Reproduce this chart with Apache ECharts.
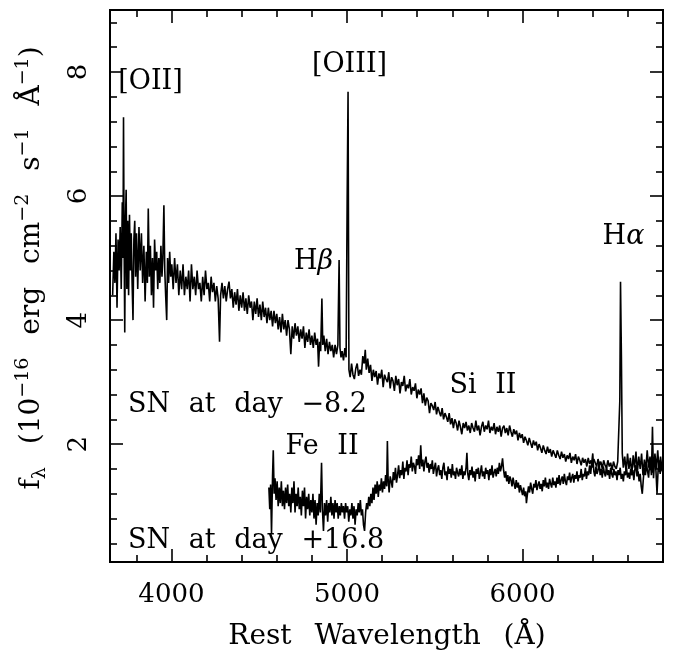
<!DOCTYPE html>
<html><head><meta charset="utf-8">
<script src="https://cdn.jsdelivr.net/npm/echarts@6/dist/echarts.min.js"></script>
<style>html,body{margin:0;padding:0;background:#fff}#c{width:674px;height:662px}</style>
</head><body><div id="c"></div>
<script>
// Day -8.2 spectrum: [rest wavelength (A), flux (1e-16 erg/cm2/s/A)]
const spectrumEarly = [
[3665,4.4],[3672,5.1],[3678,4.6],[3684,5.4],[3690,4.2],[3696,5.3],[3702,4.8],[3708,5.5],[3714,4.5],[3720,5.9],[3724,5.0],[3727,7.27],[3730,5.4],[3734,3.8],[3738,5.6],[3742,6.1],[3746,4.5],[3751,5.6],[3756,4.4],[3761,5.7],[3766,4.8],[3771,5.4],[3776,4.6],[3781,4.0],[3786,5.3],[3791,5.6],[3796,4.7],[3801,5.4],
[3808,4.5],[3815,5.5],[3822,4.8],[3829,5.4],[3836,4.6],[3843,5.2],[3850,4.3],[3857,5.1],[3863,4.6],[3868,5.8],[3874,4.7],[3880,5.2],[3886,4.4],[3892,5.0],[3898,4.2],[3904,5.3],[3910,4.8],[3916,5.1],[3922,4.5],[3928,5.0],[3934,4.6],[3940,5.2],[3946,4.7],[3951,5.0],[3957,5.85],[3962,4.8],[3967,4.4],[3973,4.0],[3978,5.0],[3984,4.6],[3990,5.1],[3996,4.7],
[4002,4.9],[4010,4.5],[4018,5.0],[4026,4.6],[4034,4.9],[4042,4.4],[4050,4.8],[4058,4.5],[4066,4.9],[4074,4.4],[4082,4.7],[4090,4.5],[4098,4.8],[4106,4.3],[4114,4.9],[4122,4.5],[4130,4.7],[4138,4.4],[4146,4.8],[4154,4.5],[4162,4.6],[4170,4.3],[4178,4.7],[4186,4.4],[4194,4.8],[4202,4.5],[4210,4.6],[4218,4.3],[4226,4.7],[4234,4.45],[4242,4.6],[4250,4.3],[4258,4.55],[4266,4.35],[4274,3.65],[4280,4.4],[4288,4.6],[4296,4.35],
[4304,4.55],[4312,4.3],[4320,4.5],[4328,4.62],[4336,4.35],[4344,4.5],[4352,4.2],[4360,4.45],[4368,4.25],[4376,4.5],[4384,4.15],[4392,4.4],[4400,4.2],[4408,4.45],[4416,4.15],[4424,4.35],[4432,4.1],[4440,4.4],[4448,4.2],[4456,4.3],[4464,4.0],[4472,4.3],[4480,4.1],[4488,4.35],[4496,4.05],[4504,4.25],[4512,4.0],[4520,4.3],[4528,4.05],[4536,4.2],[4544,3.95],[4552,4.2],[4560,4.0],[4568,4.15],[4576,3.9],[4584,4.15],[4592,3.95],[4600,4.1],
[4608,3.85],[4616,4.05],[4624,3.8],[4632,4.1],[4640,3.85],[4648,4.0],[4656,3.75],[4664,4.0],[4672,3.85],[4680,3.45],[4688,3.9],[4696,3.7],[4704,3.95],[4712,3.75],[4720,3.9],[4728,3.65],[4736,3.85],[4744,3.7],[4752,3.9],[4760,3.55],[4768,3.8],[4776,3.65],[4784,3.85],[4792,3.6],[4800,3.75],[4808,3.55],[4816,3.8],[4824,3.6],[4832,3.7],[4838,3.25],[4844,3.65],[4850,3.5],[4857,4.35],[4862,3.6],[4868,3.75],[4876,3.5],[4884,3.7],[4892,3.45],[4900,3.65],
[4908,3.5],[4916,3.6],[4924,3.4],[4932,3.6],[4940,3.45],[4948,3.6],[4955,4.97],[4960,3.55],[4966,3.4],[4972,3.5],[4980,3.35],[4988,3.55],[4995,3.4],[5001,5.98],[5006,7.68],[5011,3.2],
[5018,3.08],[5026,3.3],[5034,3.12],[5042,3.05],[5050,3.22],[5058,3.3],[5066,3.1],[5074,3.2],[5082,3.12],[5090,3.42],[5098,3.3],[5104,3.52],[5110,3.2],[5118,3.38],[5126,3.15],[5134,3.28],[5142,3.02],[5150,3.2],[5158,3.08],[5166,3.18],[5174,2.96],[5182,3.14],[5190,3.06],[5198,3.2],
[5206,2.92],[5214,3.12],[5222,3.05],[5230,3.0],[5238,3.16],[5246,2.9],[5254,3.08],[5262,3.02],[5270,2.86],[5278,3.1],[5286,2.95],[5294,3.05],[5302,2.82],[5310,3.0],[5318,2.94],[5326,3.1],[5334,2.85],[5342,2.96],[5350,2.9],[5358,3.05],[5366,2.8],[5374,2.92],[5382,2.86],[5390,2.98],[5398,2.74],
[5406,2.88],[5414,2.8],[5422,2.9],[5430,2.66],[5438,2.82],[5446,2.62],[5454,2.75],[5462,2.7],[5470,2.5],[5478,2.66],[5486,2.62],[5494,2.55],[5502,2.68],[5510,2.48],[5518,2.6],[5526,2.52],[5534,2.45],[5542,2.58],[5550,2.4],[5558,2.5],[5566,2.44],[5574,2.36],[5582,2.5],[5590,2.32],[5598,2.42],
[5606,2.26],[5614,2.4],[5622,2.34],[5630,2.22],[5638,2.38],[5646,2.28],[5654,2.16],[5662,2.34],[5670,2.26],[5678,2.36],[5686,2.22],[5694,2.3],[5702,2.18],[5710,2.34],[5718,2.26],[5726,2.2],[5734,2.38],[5742,2.22],[5750,2.3],[5758,2.14],[5766,2.28],[5774,2.36],[5782,2.2],[5790,2.3],[5798,2.24],
[5806,2.38],[5814,2.18],[5822,2.28],[5830,2.22],[5838,2.34],[5846,2.16],[5854,2.28],[5862,2.2],[5870,2.3],[5878,2.12],[5886,2.26],[5894,2.3],[5902,2.18],[5910,2.26],[5918,2.14],[5926,2.3],[5934,2.2],[5942,2.12],[5950,2.24],[5958,2.16],[5966,2.22],[5974,2.06],[5982,2.18],[5990,2.1],[5998,2.16],
[6006,2.02],[6014,2.12],[6022,2.06],[6030,1.98],[6038,2.1],[6046,2.02],[6054,1.94],[6062,2.06],[6070,1.98],[6078,2.04],[6086,1.9],[6094,2.0],[6102,1.94],[6110,1.86],[6118,1.98],[6126,1.9],[6134,1.84],[6142,1.96],[6150,1.86],[6158,1.92],[6166,1.8],[6174,1.9],[6182,1.84],[6190,1.78],[6198,1.9],
[6206,1.82],[6214,1.76],[6222,1.88],[6230,1.78],[6238,1.84],[6246,1.72],[6254,1.82],[6262,1.76],[6270,1.86],[6278,1.7],[6286,1.8],[6294,1.74],[6302,1.84],[6310,1.68],[6318,1.8],[6326,1.74],[6334,1.66],[6342,1.78],[6350,1.7],[6358,1.76],[6366,1.64],[6374,1.78],[6382,1.68],[6390,1.74],[6398,1.62],
[6406,1.76],[6414,1.7],[6422,1.64],[6430,1.76],[6438,1.66],[6446,1.72],[6454,1.6],[6462,1.74],[6470,1.66],[6478,1.62],[6486,1.74],[6494,1.64],[6502,1.7],[6510,1.58],[6518,1.72],[6526,1.64],[6534,1.6],[6542,1.72],[6550,1.7],[6554,2.7],[6558,4.62],[6563,3.43],[6568,1.85],[6574,1.62],[6582,1.8],[6590,1.55],[6598,1.85],
[6606,1.6],[6614,1.78],[6622,1.5],[6630,1.82],[6638,1.62],[6646,1.88],[6654,1.55],[6662,1.8],[6670,1.6],[6678,1.85],[6686,1.5],[6694,1.75],[6702,1.58],[6710,1.9],[6718,1.62],[6726,1.8],[6734,1.5],[6740,2.28],[6746,1.45],[6754,1.85],[6762,1.6],[6770,1.9],[6778,1.55],[6786,1.8],[6794,1.6],[6800,1.75]
];
// Day +16.8 spectrum
const spectrumLate = [
[4555,1.3],[4560,0.95],[4565,1.35],[4570,0.55],[4576,1.5],[4580,1.9],[4585,1.2],[4590,1.45],[4596,1.1],[4602,1.4],[4608,1.0],[4614,1.3],[4620,1.05],[4626,1.4],[4632,1.0],[4638,1.25],[4644,0.95],[4650,1.3],[4656,1.05],[4662,1.35],[4668,1.0],[4674,1.2],[4680,0.9],[4686,1.3],[4692,1.05],[4698,1.4],
[4704,0.9],[4710,1.2],[4716,1.0],[4722,1.3],[4728,0.95],[4734,1.15],[4740,0.85],[4746,1.25],[4752,1.0],[4758,1.3],[4764,0.8],[4770,1.15],[4776,0.95],[4782,1.2],[4788,0.85],[4794,1.1],[4800,0.9],[4806,1.2],[4812,0.8],[4818,1.1],[4824,0.7],[4830,1.05],[4836,0.85],[4842,1.2],[4848,0.9],[4855,1.7],[4860,0.95],[4866,0.6],[4872,1.05],[4878,0.85],[4884,1.1],[4890,0.75],[4896,1.05],
[4902,0.9],[4908,1.15],[4914,0.85],[4920,1.05],[4926,0.8],[4932,1.1],[4938,0.9],[4944,1.05],[4950,0.8],[4956,1.0],[4962,0.85],[4968,1.05],[4974,0.9],[4980,1.0],[4986,0.8],[4992,1.05],[4998,0.9],[5004,1.0],[5010,0.75],[5016,0.95],[5022,0.85],[5028,1.05],[5034,0.8],[5040,1.0],[5046,0.7],[5052,0.95],[5058,0.85],[5064,1.05],[5070,0.9],[5076,1.1],[5082,0.85],[5088,0.95],[5094,0.7],[5100,0.6],
[5106,0.9],[5112,1.05],[5118,0.95],[5124,1.15],[5130,1.0],[5136,1.2],[5142,1.05],[5148,1.3],[5154,1.1],[5160,1.35],[5166,1.2],[5172,1.4],[5178,1.15],[5184,1.35],[5190,1.25],[5196,1.45],
[5202,1.22],[5208,1.4],[5214,1.28],[5220,1.5],[5226,1.32],[5230,2.05],[5234,1.45],[5240,1.22],[5246,1.48],[5252,1.4],[5258,1.3],[5264,1.55],[5270,1.42],[5276,1.62],[5282,1.38],[5288,1.5],[5294,1.66],[5300,1.45],[5306,1.58],[5312,1.5],[5318,1.72],[5324,1.44],[5330,1.62],[5336,1.56],[5342,1.74],[5348,1.5],[5354,1.68],[5360,1.62],[5366,1.8],[5372,1.56],[5378,1.7],[5384,1.64],[5390,1.52],[5396,1.76],
[5402,1.66],[5408,1.82],[5414,1.6],[5420,1.98],[5426,1.64],[5432,1.75],[5438,1.56],[5444,1.72],[5450,1.8],[5456,1.62],[5462,1.7],[5468,1.54],[5474,1.68],[5480,1.6],[5486,1.74],[5492,1.52],[5498,1.62],[5504,1.7],[5510,1.48],[5516,1.6],[5522,1.66],[5528,1.5],[5534,1.58],[5540,1.44],[5546,1.62],[5552,1.7],[5558,1.5],[5564,1.56],[5570,1.42],[5576,1.64],[5582,1.52],[5588,1.6],[5594,1.46],
[5600,1.68],[5606,1.5],[5612,1.56],[5618,1.44],[5624,1.62],[5630,1.54],[5636,1.48],[5642,1.6],[5648,1.5],[5654,1.66],[5660,1.44],[5666,1.56],[5672,1.5],[5678,1.62],[5683,1.86],[5688,1.52],[5694,1.42],[5700,1.58],[5706,1.5],[5712,1.64],[5718,1.46],[5724,1.56],[5730,1.4],[5736,1.6],[5742,1.52],[5748,1.62],[5754,1.44],[5760,1.54],[5766,1.66],[5772,1.48],[5778,1.56],[5784,1.44],[5790,1.62],[5796,1.52],
[5802,1.58],[5808,1.42],[5814,1.6],[5820,1.5],[5826,1.66],[5832,1.46],[5838,1.54],[5844,1.6],[5850,1.48],[5856,1.62],[5862,1.52],[5868,1.7],[5874,1.56],[5880,1.64],[5886,1.77],[5892,1.58],[5898,1.46],[5904,1.56],[5910,1.4],[5916,1.5],[5922,1.36],[5928,1.48],[5934,1.42],[5940,1.32],[5946,1.46],[5952,1.36],[5958,1.28],[5964,1.42],[5970,1.3],[5976,1.38],[5982,1.22],[5988,1.34],[5994,1.26],
[6000,1.18],[6006,1.3],[6012,1.16],[6018,1.24],[6022,1.05],[6028,1.2],[6034,1.32],[6040,1.22],[6046,1.38],[6052,1.28],[6058,1.2],[6064,1.36],[6070,1.3],[6076,1.42],[6082,1.26],[6088,1.34],[6094,1.4],[6100,1.28],[6106,1.36],[6112,1.24],[6118,1.42],[6124,1.32],[6130,1.46],[6136,1.3],[6142,1.38],[6148,1.28],[6154,1.44],[6160,1.36],[6166,1.3],[6172,1.46],[6178,1.34],[6184,1.4],[6190,1.3],[6196,1.46],
[6202,1.36],[6208,1.5],[6214,1.34],[6220,1.42],[6226,1.48],[6232,1.36],[6238,1.52],[6244,1.4],[6250,1.34],[6256,1.48],[6262,1.42],[6268,1.54],[6274,1.38],[6280,1.46],[6286,1.52],[6292,1.38],[6298,1.5],[6304,1.44],[6310,1.56],[6316,1.4],[6322,1.5],[6328,1.46],[6334,1.6],[6340,1.42],[6346,1.52],[6352,1.48],[6358,1.62],[6364,1.44],[6370,1.56],[6376,1.5],[6382,1.66],[6388,1.52],[6394,1.7],
[6400,1.85],[6406,1.56],[6412,1.48],[6418,1.64],[6424,1.52],[6430,1.58],[6436,1.72],[6442,1.5],[6448,1.6],[6454,1.46],[6460,1.64],[6466,1.54],[6472,1.48],[6478,1.66],[6484,1.5],[6490,1.58],[6496,1.44],[6502,1.62],[6508,1.52],[6514,1.46],[6520,1.6],[6526,1.5],[6532,1.56],[6538,1.42],[6544,1.58],[6550,1.5],[6556,1.62],[6562,1.44],[6568,1.52],[6574,1.4],[6580,1.56],[6586,1.5],[6592,1.62],[6598,1.46],
[6604,1.54],[6610,1.44],[6616,1.6],[6622,1.5],[6628,1.58],[6634,1.42],[6640,1.6],[6646,1.66],[6652,1.48],[6658,1.56],[6664,1.4],[6670,1.52],[6676,1.32],[6682,1.2],[6688,1.44],[6694,1.62],[6700,1.5],[6706,1.68],[6712,1.56],[6718,1.46],[6724,1.7],[6730,1.58],[6736,1.74],[6742,1.54],[6748,1.68],[6754,1.78],[6760,1.56],[6766,1.2],[6772,1.58],[6778,1.74],[6784,1.52],[6790,1.7],[6796,1.56],[6800,1.62]
];
const xMajorTicks = [4000,5000,6000];
const xMinorTicks = [3800,4200,4400,4600,4800,5200,5400,5600,5800,6200,6400,6600];
const yMajorTicks = [2,4,6,8];
const yMinorTicks = [0.4,0.8,1.2,1.6,2.4,2.8,3.2,3.6,4.4,4.8,5.2,5.6,6.4,6.8,7.2,7.6,8.4,8.8];

const FONT = '"DejaVu Serif", serif';
const chart = echarts.init(document.getElementById('c'), null, {renderer:'canvas'});

function xAx(pos, ticks, len, labels) {
  return {
    type:'value', position:pos, min:3650, max:6800,
    axisLine:{show:false}, splitLine:{show:false},
    axisTick:{show:true, inside:true, length:len, customValues:ticks, lineStyle:{color:'#000', width:1.6}},
    axisLabel:labels ? {show:true, customValues:ticks, color:'#000', fontSize:26, fontFamily:FONT, margin:20, formatter:v=>String(v)} : {show:false}
  };
}
function yAx(pos, ticks, len, labels) {
  return {
    type:'value', position:pos, min:0.1, max:9,
    axisLine:{show:false}, splitLine:{show:false},
    axisTick:{show:true, inside:true, length:len, customValues:ticks, lineStyle:{color:'#000', width:1.6}},
    axisLabel:labels ? {show:true, customValues:ticks, color:'#000', fontSize:26, fontFamily:FONT, rotate:90, margin:18, formatter:v=>String(v)} : {show:false}
  };
}

const rich = {
  n:{fontSize:27, fontFamily:FONT, color:'#000', lineHeight:36},
  t:{fontSize:28, fontFamily:FONT, color:'#000', lineHeight:36},
  g:{fontSize:27, fontFamily:FONT, color:'#000', lineHeight:36, padding:[0,5,0,5]},
  gy:{fontSize:28, fontFamily:FONT, color:'#000', lineHeight:36, padding:[0,7,0,7]},
  it:{fontSize:27, fontFamily:FONT, color:'#000', fontStyle:'italic', lineHeight:36},
  sup:{fontSize:19, fontFamily:FONT, color:'#000', verticalAlign:'top', lineHeight:19},
  sub:{fontSize:19, fontFamily:FONT, color:'#000', verticalAlign:'bottom', lineHeight:19}
};
function label(text, x, y, align, rot) {
  return {type:'text', x:x, y:y, z:100, rotation:rot||0,
    style:{text:text, rich:rich, align:align||'center', verticalAlign:'middle', fill:'#000'}};
}

chart.setOption({
  animation:false,
  backgroundColor:'#fff',
  grid:{left:110, right:11, top:10, bottom:100, show:true, borderColor:'#000', borderWidth:2, backgroundColor:'transparent'},
  xAxis:[xAx('bottom', xMajorTicks, 13, true), xAx('bottom', xMinorTicks, 7, false), xAx('top', xMajorTicks, 13, false), xAx('top', xMinorTicks, 7, false)],
  yAxis:[yAx('left', yMajorTicks, 13, true), yAx('left', yMinorTicks, 7, false), yAx('right', yMajorTicks, 13, false), yAx('right', yMinorTicks, 7, false)],
  series:[
    {type:'line', name:'SN at day -8.2', data:spectrumEarly, showSymbol:false, symbol:'none', lineStyle:{color:'#000', width:1.6}, clip:true},
    {type:'line', name:'SN at day +16.8', data:spectrumLate, showSymbol:false, symbol:'none', lineStyle:{color:'#000', width:1.6}, clip:true}
  ],
  graphic:[
    label('{n|[OII]}', 150.5, 82),
    label('{n|[OIII]}', 349.5, 64.5),
    label('{n|H}{it|β}', 313.5, 262),
    label('{n|H}{it|α}', 623.5, 237),
    label('{n|Si}{g| }{n|II}', 483, 386),
    label('{n|SN}{g| }{n|at}{g| }{n|day}{g| }{n|\u22128.2}', 128, 405, 'left'),
    label('{n|Fe}{g| }{n|II}', 322, 447),
    label('{n|SN}{g| }{n|at}{g| }{n|day}{g| }{n|+16.8}', 128, 541, 'left'),
    label('{t|Rest}{gy| }{t|Wavelength}{gy| }{t|(\u00C5)}', 387, 637),
    label('{t|f}{sub|\u03BB}{gy| }{t|(10}{sup|\u221216}{gy| }{t|erg}{gy| }{t|cm}{sup|\u22122}{gy| }{t|s}{sup|\u22121}{gy| }{t|\u00C5}{sup|\u22121}{t|)}', 32, 268, 'center', Math.PI/2)
  ]
});
</script></body></html>
